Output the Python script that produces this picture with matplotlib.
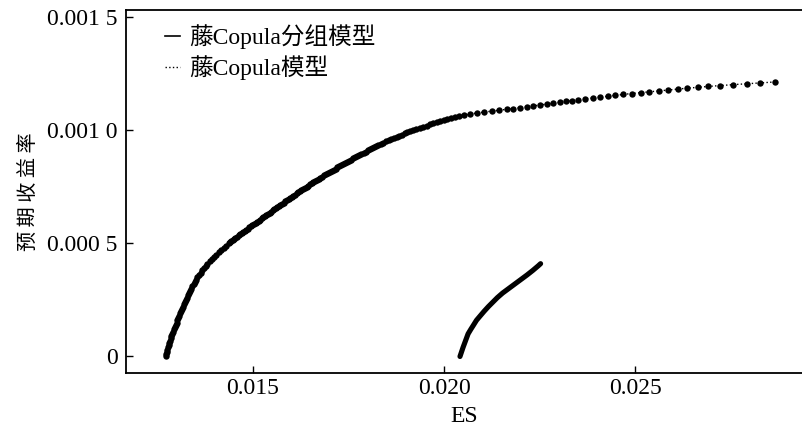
import matplotlib
matplotlib.use("Agg")
import matplotlib.pyplot as plt
from matplotlib.lines import Line2D

# ---------------- data ----------------
# 藤Copula模型 (dotted line with markers) : ES vs expected return
copula_ret = [
    0.0, 0.00001, 0.00002, 0.00003, 0.00004, 0.00005, 0.00006, 0.00007, 0.00008, 0.00009,
    0.00010, 0.00011, 0.00012, 0.00013, 0.00014, 0.00015, 0.00016, 0.00017, 0.00018, 0.00019,
    0.00020, 0.00021, 0.00022, 0.00023, 0.00024, 0.00025, 0.00026, 0.00027, 0.00028, 0.00029,
    0.00030, 0.00031, 0.00032, 0.00033, 0.00034, 0.00035, 0.00036, 0.00037, 0.00038, 0.00039,
    0.00040, 0.00041, 0.00042, 0.00043, 0.00044, 0.00045, 0.00046, 0.00047, 0.00048, 0.00049,
    0.00050, 0.000505, 0.000510, 0.000515, 0.000520, 0.000525, 0.000530, 0.000535, 0.000540,
    0.000545, 0.000550, 0.000555, 0.000560, 0.000565, 0.000570, 0.000575, 0.000580, 0.000585,
    0.000590, 0.000595, 0.000600, 0.000605, 0.000610, 0.000615, 0.000620, 0.000625, 0.000630,
    0.000635, 0.000640, 0.000645, 0.000650, 0.000655, 0.000660, 0.000665, 0.000670, 0.000675,
    0.000680, 0.000685, 0.000690, 0.000695, 0.000700, 0.000705, 0.000710, 0.000715, 0.000720,
    0.000725, 0.000730, 0.000735, 0.000740, 0.000745, 0.000750, 0.000755, 0.000760, 0.000765,
    0.000770, 0.000775, 0.000780, 0.000785, 0.000790, 0.000795, 0.000800, 0.000805, 0.000810,
    0.000815, 0.000820, 0.000825, 0.000830, 0.000835, 0.000840, 0.000845, 0.000850, 0.000855,
    0.000860, 0.000865, 0.000870, 0.000875, 0.000880, 0.000885, 0.000890, 0.000895, 0.000900,
    0.000905, 0.000910, 0.000915, 0.000920, 0.000925, 0.000930, 0.000935, 0.000940, 0.000945,
    0.000950, 0.000955, 0.000960, 0.000965, 0.000970, 0.000975, 0.000980, 0.000985, 0.000990,
    0.000995, 0.001000, 0.001005, 0.001010, 0.001015, 0.001020, 0.001025, 0.001030, 0.001035,
    0.001040, 0.001045, 0.001050, 0.001054, 0.001058, 0.001062, 0.001066, 0.001070,
    0.0010755, 0.0010794, 0.0010833, 0.0010872, 0.0010912, 0.0010951, 0.0010990, 0.0011029,
    0.0011068, 0.0011107, 0.0011146, 0.0011186, 0.0011225, 0.0011264, 0.0011303, 0.0011342,
    0.0011381, 0.0011420, 0.0011460, 0.0011499, 0.0011538, 0.0011577, 0.0011616, 0.0011655,
    0.0011694, 0.0011734, 0.0011773, 0.0011812, 0.0011851, 0.0011890, 0.0011929, 0.0011968,
    0.0012008, 0.0012047, 0.0012086, 0.0012125,
]
copula_es = [
    0.012712, 0.012728, 0.012744, 0.012760, 0.012776, 0.012792, 0.012808, 0.012824, 0.012845, 0.012868,
    0.012891, 0.012913, 0.012936, 0.012959, 0.012981, 0.013003, 0.013025, 0.013047, 0.013069, 0.013091,
    0.013113, 0.013135, 0.013162, 0.013188, 0.013214, 0.013240, 0.013266, 0.013292, 0.013320, 0.013351,
    0.013382, 0.013414, 0.013445, 0.013476, 0.013507, 0.013543, 0.013588, 0.013632, 0.013677, 0.013721,
    0.013766, 0.013810, 0.013864, 0.013924, 0.013983, 0.014042, 0.014101, 0.014160, 0.014229, 0.014298,
    0.014367, 0.014402, 0.014436, 0.014471, 0.014505, 0.014542, 0.014582, 0.014623, 0.014663,
    0.014704, 0.014744, 0.014785, 0.014825, 0.014866, 0.014906, 0.014946, 0.014987, 0.015027,
    0.015067, 0.015108, 0.015148, 0.015188, 0.015229, 0.015269, 0.015309, 0.015350, 0.015391,
    0.015432, 0.015473, 0.015514, 0.015555, 0.015596, 0.015637, 0.015678, 0.015719, 0.015760,
    0.015802, 0.015844, 0.015886, 0.015929, 0.015971, 0.016013, 0.016055, 0.016098, 0.016140,
    0.016182, 0.016224, 0.016267, 0.016309, 0.016354, 0.016400, 0.016446, 0.016491, 0.016537,
    0.016582, 0.016628, 0.016673, 0.016719, 0.016764, 0.016810, 0.016858, 0.016908, 0.016958,
    0.017008, 0.017058, 0.017108, 0.017158, 0.017208, 0.017258, 0.017308, 0.017357, 0.017407,
    0.017457, 0.017507, 0.017559, 0.017615, 0.017670, 0.017726, 0.017781, 0.017836, 0.017892,
    0.017947, 0.018003, 0.018058, 0.018114, 0.018169, 0.018225, 0.018280, 0.018339, 0.018409,
    0.018479, 0.018549, 0.018618, 0.018688, 0.018758, 0.018828, 0.018898, 0.018967, 0.019037,
    0.019107, 0.019177, 0.019266, 0.019357, 0.019447, 0.019538, 0.019629, 0.019720, 0.019811,
    0.019901, 0.019992, 0.020083, 0.020171, 0.020275, 0.020395, 0.020531, 0.020683,
    0.020850, 0.021041, 0.021242, 0.021441, 0.021635, 0.021807, 0.021982, 0.022158,
    0.022330, 0.022505, 0.022681, 0.022853, 0.023028, 0.023185, 0.023355, 0.023507,
    0.023682, 0.023883, 0.024074, 0.024276, 0.024467, 0.024684, 0.024903, 0.025147,
    0.025364, 0.025625, 0.025861, 0.026122, 0.026342, 0.026645, 0.026907, 0.027213,
    0.027560, 0.027906, 0.028259, 0.028638,
]

# 藤Copula分组模型 (solid line)
group_ret = [0.0, 0.00002, 0.00004, 0.00006, 0.00008, 0.00010, 0.00012, 0.00014, 0.00016,
             0.00018, 0.00020, 0.00022, 0.00024, 0.00026, 0.00028, 0.00030, 0.00032,
             0.00034, 0.00036, 0.00038, 0.00040, 0.00041]
group_es = [0.020413, 0.020453, 0.020493, 0.020537, 0.020581, 0.020625, 0.020696, 0.020771,
            0.020845, 0.020945, 0.021046, 0.021154, 0.021272, 0.021390, 0.021526, 0.021686,
            0.021846, 0.022006, 0.022166, 0.022316, 0.022456, 0.022521]

legend_labels = ["藤Copula分组模型", "藤Copula模型"]
x_ticks = [0.015, 0.020, 0.025]
x_ticklabels = ["0.015", "0.020", "0.025"]
y_ticks = [0.0, 0.0005, 0.0010, 0.0015]
y_ticklabels = ["0", "0.000 5", "0.001 0", "0.001 5"]
x_label = "ES"
y_label = "预 期 收 益 率"

# ---------------- figure ----------------
FAM = ["Liberation Serif", "Noto Sans CJK SC"]
plt.rcParams["font.family"] = FAM

W, H = 802, 429
fig = plt.figure(figsize=(W / 100, H / 100), dpi=100)
L, R_, T, B = 126, 802, 10, 372.7
ax = fig.add_axes([L / W, (H - B) / H, (R_ - L) / W, (B - T) / H])

ax.plot(copula_es, copula_ret, linestyle=":", linewidth=1.0, color="black",
        marker="o", markersize=4.6, markeredgewidth=0, zorder=3)
ax.plot(group_es, group_ret, linestyle="-", linewidth=3.7, color="black",
        solid_capstyle="round", zorder=3)

ax.set_xlim(0.011679, 0.029357)
ax.set_ylim(-0.0000716, 0.0015305)

ax.set_xticks(x_ticks)
ax.set_xticklabels(x_ticklabels)
ax.set_yticks(y_ticks)
ax.set_yticklabels(y_ticklabels)
ax.tick_params(direction="in", length=5, width=1.0, labelsize=17, pad=4)
ax.tick_params(axis="y", pad=6)

for s in ["left", "bottom", "top"]:
    ax.spines[s].set_linewidth(1.3)
ax.spines["right"].set_visible(False)

ax.set_xlabel(x_label, fontsize=17, labelpad=5)
ax.set_ylabel(y_label, fontsize=14.5, labelpad=6,
              family=["Noto Sans CJK SC", "DejaVu Sans"], linespacing=1.0)

handles = [Line2D([0], [0], color="black", linestyle="-", linewidth=1.2),
           Line2D([0], [0], color="black", linestyle=":", linewidth=1.0)]
ax.legend(handles, legend_labels, loc="upper left", bbox_to_anchor=(0.036, 1.0),
          frameon=False, fontsize=17, handlelength=0.65, handletextpad=0.4,
          labelspacing=0.28, borderaxespad=0.2)

fig.savefig("out.png", dpi=100)
